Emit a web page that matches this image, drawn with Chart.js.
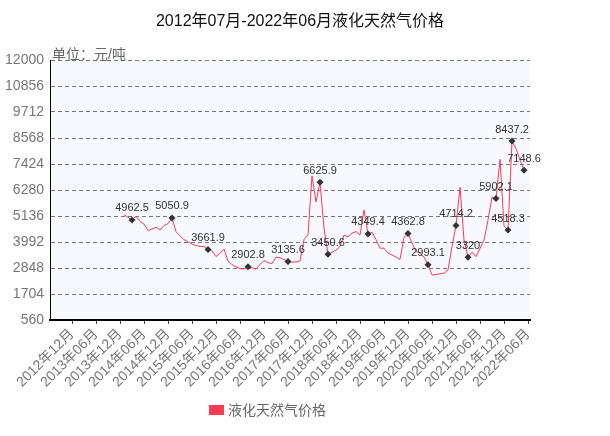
<!DOCTYPE html>
<html>
<head>
<meta charset="utf-8">
<script src="https://cdn.jsdelivr.net/npm/chart.js@4.4.1/dist/chart.umd.min.js"></script>
<style>
  html, body { margin: 0; padding: 0; background: #fff; }
  #wrap { width: 610px; height: 436px; }
</style>
</head>
<body>
<div id="wrap"><canvas id="lngChart" width="610" height="436"></canvas></div>
<script>
// months 2012-07 .. 2022-06
const months = [];
for (let y = 2012, m = 7; months.length < 120; m++) {
    if (m > 12) { m = 1; y++; }
    months.push(y + '年' + String(m).padStart(2, '0') + '月');
}

// 液化天然气价格 (元/吨)
const prices = [
    null, null, null, null, null, null, null, null, null, null, null, null,
    null, null, null, null, null, null,
    5200, 5080, 4962.5, 5120, 4900, 4780, 4500, 4560, 4640, 4520, 4720, 4800,
    5050.9, 4450, 4260, 4100, 4000, 3900, 3840, 3800, 3790, 3661.9,
    3600, 3350, 3500, 3680, 3150, 3000, 2900, 2820, 2800, 2902.8,
    2860, 2800, 3000, 3180, 3080, 3050, 3330, 3300, 3220, 3135.6,
    3100, 3120, 3160, 4100, 4300, 6900, 5750, 6625.9, 4600, 3450.6,
    3540, 3640, 3790, 4300, 4220, 4380, 4450, 4300, 5400, 4349.4,
    4420, 4100, 3720, 3720, 3500, 3420, 3330, 3230, 4200, 4362.8,
    3950, 3570, 3500, 3330, 2993.1, 2540, 2560, 2600, 2620, 2760,
    3785, 4714.2, 6400, 4080, 3320, 3550, 3345, 3700, 4080, 4960,
    5970, 5902.1, 7630, 4700, 4518.3, 8437.2, 8100, 7600, 7148.6, null
];

// points that carry a marker and a value label
const labeledPoints = [20, 30, 39, 49, 59, 67, 69, 79, 89, 94, 101, 104, 111, 114, 115, 118];

const yTicks = [560, 1704, 2848, 3992, 5136, 6280, 7424, 8568, 9712, 10856, 12000];

const titleText = '2012年07月-2022年06月液化天然气价格';
const unitText = '单位：元/吨';
const seriesName = '液化天然气价格';
const lineColor = 'rgb(255, 58, 82)';

Chart.defaults.font.family = "Arial, 'Liberation Sans', 'Noto Sans CJK SC', sans-serif";

const decorPlugin = {
    id: 'decor',
    beforeDraw(chart) {
        const { ctx, chartArea: a } = chart;
        ctx.save();
        ctx.fillStyle = '#f8f9fe';
        ctx.fillRect(a.left, a.top, a.right - a.left, a.bottom - a.top);
        ctx.restore();
    },
    afterDraw(chart) {
        const { ctx, chartArea: a } = chart;
        ctx.save();
        // title
        ctx.fillStyle = '#111';
        ctx.font = "16px Arial, 'Liberation Sans', 'Noto Sans CJK SC', sans-serif";
        ctx.textAlign = 'center';
        ctx.textBaseline = 'middle';
        ctx.fillText(titleText, 300, 22);
        // unit
        ctx.fillStyle = '#666';
        ctx.font = "14px Arial, 'Liberation Sans', 'Noto Sans CJK SC', sans-serif";
        ctx.textAlign = 'left';
        ctx.fillText(unitText, a.left + 2, 55);
        // legend
        ctx.fillStyle = lineColor;
        ctx.fillRect(209, 405, 15, 10);
        ctx.fillStyle = '#666';
        ctx.fillText(seriesName, 228, 411);
        ctx.restore();
    },
    afterDatasetsDraw(chart) {
        const { ctx } = chart;
        const meta = chart.getDatasetMeta(0);
        ctx.save();
        ctx.fillStyle = '#333';
        ctx.font = "11px Arial, 'Liberation Sans', sans-serif";
        ctx.textAlign = 'center';
        ctx.textBaseline = 'bottom';
        labeledPoints.forEach(i => {
            const pt = meta.data[i];
            ctx.fillText(String(prices[i]), pt.x, pt.y - 6);
        });
        ctx.restore();
    }
};

new Chart(document.getElementById('lngChart'), {
    type: 'line',
    data: {
        labels: months,
        datasets: [{
            label: seriesName,
            data: prices,
            borderColor: lineColor,
            backgroundColor: lineColor,
            borderWidth: 1,
            tension: 0,
            spanGaps: false,
            pointStyle: 'rectRot',
            pointRadius: prices.map((v, i) => labeledPoints.includes(i) ? 3.5 : 0),
            pointBackgroundColor: '#333',
            pointBorderColor: '#333',
            pointBorderWidth: 0
        }]
    },
    options: {
        responsive: false,
        animation: false,
        layout: {
            padding: { top: 60, left: 0, right: 80, bottom: 0 }
        },
        scales: {
            x: {
                offset: true,
                afterFit: scale => { scale.height = 116; },
                border: { color: '#000', width: 2 },
                grid: {
                    offset: false,
                    drawOnChartArea: false,
                    drawTicks: true,
                    tickLength: 4,
                    color: '#444'
                },
                ticks: {
                    autoSkip: false,
                    minRotation: 45,
                    maxRotation: 45,
                    padding: 2,
                    color: '#777',
                    font: { size: 14 },
                    callback: (v, i) => (i % 6 === 5 ? months[i] : null)
                }
            },
            y: {
                min: 560,
                max: 12000,
                afterFit: scale => { scale.width = 50; },
                afterBuildTicks: scale => { scale.ticks = yTicks.map(v => ({ value: v })); },
                border: { color: '#000', width: 1, dash: [4, 3] },
                grid: {
                    color: '#777',
                    drawTicks: false
                },
                ticks: {
                    padding: 6,
                    color: '#777',
                    font: { size: 14 },
                    callback: v => String(v)
                }
            }
        },
        plugins: {
            legend: { display: false },
            title: { display: false },
            tooltip: { enabled: false }
        }
    },
    plugins: [decorPlugin]
});
</script>
</body>
</html>
